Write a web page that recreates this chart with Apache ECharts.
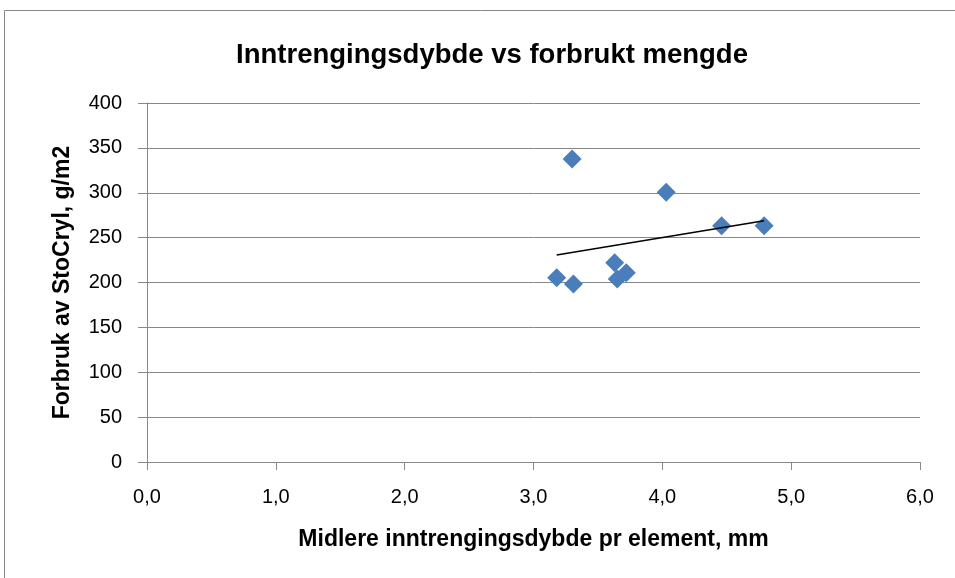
<!DOCTYPE html>
<html><head><meta charset="utf-8">
<script src="https://cdn.jsdelivr.net/npm/echarts@6/dist/echarts.min.js"></script>
<style>html,body{margin:0;padding:0;background:#fff}#c{width:955px;height:578px}</style>
</head><body><div id="c"></div>
<script>
const xValues = [3.30, 4.03, 4.46, 4.79, 3.18, 3.31, 3.63, 3.65, 3.72];
const yValues = [337.6, 300.5, 263.3, 263.3, 205.4, 198.3, 222, 204, 211];
const xTicks = ['0,0','1,0','2,0','3,0','4,0','5,0','6,0'];
const yTicks = [0,50,100,150,200,250,300,350,400];

const pts = xValues.map((x,i)=>[x,yValues[i]]);
const n = xValues.length;
const mx = xValues.reduce((a,b)=>a+b,0)/n;
const my = yValues.reduce((a,b)=>a+b,0)/n;
let sxy=0,sxx=0;
for(let i=0;i<n;i++){sxy+=(xValues[i]-mx)*(yValues[i]-my);sxx+=(xValues[i]-mx)**2;}
const slope=sxy/sxx, icpt=my-slope*mx;
const xmin=Math.min(...xValues), xmax=Math.max(...xValues);
const trend=[[xmin,icpt+slope*xmin],[xmax,icpt+slope*xmax]];

const FONT = '"Liberation Sans",sans-serif';
const chart = echarts.init(document.getElementById('c'));
chart.setOption({
  animation:false,
  title:{text:'Inntrengingsdybde vs forbrukt mengde',left:487,top:36,textAlign:'center',
    textStyle:{fontFamily:FONT,fontSize:27.5,fontWeight:'bold',color:'#000'}},
  graphic:[{type:'rect',shape:{x:4.5,y:10.5,width:980,height:600},style:{fill:'none',stroke:'#888',lineWidth:1}}],
  grid:{left:147,right:35,top:103,bottom:116},
  xAxis:{type:'value',min:0,max:6,interval:1,
    name:'Midlere inntrengingsdybde pr element, mm',nameLocation:'middle',nameGap:66,
    nameTextStyle:{fontFamily:FONT,fontSize:23,fontWeight:'bold',color:'#000'},
    axisLine:{show:true,lineStyle:{color:'#888'}},
    axisTick:{show:true,length:8,lineStyle:{color:'#888'}},
    axisLabel:{fontFamily:FONT,fontSize:20,color:'#000',margin:25,formatter:(v)=>xTicks[Math.round(v)]},
    splitLine:{show:false}},
  yAxis:{type:'value',min:0,max:400,interval:50,
    name:'Forbruk av StoCryl, g/m2',nameLocation:'middle',nameGap:73,
    nameTextStyle:{fontFamily:FONT,fontSize:23,fontWeight:'bold',color:'#000'},
    axisLine:{show:true,lineStyle:{color:'#888'}},
    axisTick:{show:true,length:9,lineStyle:{color:'#888'}},
    axisLabel:{fontFamily:FONT,fontSize:20,color:'#000',margin:25,formatter:(v)=>String(yTicks[Math.round(v/50)])},
    splitLine:{show:true,lineStyle:{color:'#888',width:1}}},
  series:[
    {type:'scatter',data:pts,symbol:'diamond',symbolSize:19,itemStyle:{color:'#4A7EBB',opacity:1}},
    {type:'line',data:trend,symbol:'none',lineStyle:{color:'#000',width:1.5},z:5}
  ]
});
</script></body></html>
